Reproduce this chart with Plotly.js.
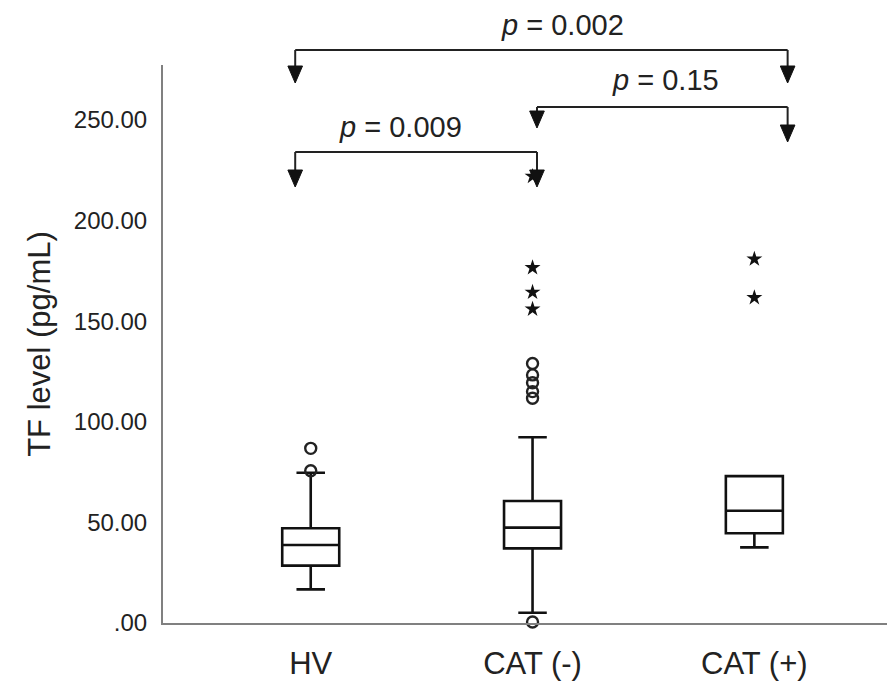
<!DOCTYPE html>
<html>
<head>
<meta charset="utf-8">
<script src="https://cdn.plot.ly/plotly-3.0.1.min.js"></script>
<style>html,body{margin:0;padding:0;background:#fff;}#chart{width:887px;height:685px;}</style>
</head>
<body>
<div id="chart"></div>
<script>
// ---- data ----
const groups = ['HV', 'CAT (-)', 'CAT (+)'];
const q1 = [28.5, 37.1, 44.6];
const medians = [38.8, 47.4, 55.8];
const q3 = [47.1, 60.6, 73.0];
const lowerWhisker = [16.7, 5.1, 37.6];
const upperWhisker = [74.7, 92.3, 73.0];

const circleGroup = ['HV', 'HV', 'CAT (-)', 'CAT (-)', 'CAT (-)', 'CAT (-)', 'CAT (-)', 'CAT (-)'];
const circleValues = [75.7, 86.8, 129.0, 123.3, 119.4, 115.0, 111.7, 0.5];

const starGroup = ['CAT (-)', 'CAT (-)', 'CAT (-)', 'CAT (-)', 'CAT (+)', 'CAT (+)'];
const starValues = [222.0, 176.6, 164.4, 156.0, 180.9, 161.7];

const yTickVals = [0, 50, 100, 150, 200, 250];
const yTickText = ['.00', '50.00', '100.00', '150.00', '200.00', '250.00'];

// comparisons: [from group index, to group index, label]
const comparisons = [
  {from: 0, to: 2, label: 'p = 0.002'},
  {from: 1, to: 2, label: 'p = 0.15'},
  {from: 0, to: 1, label: 'p = 0.009'}
];

// ---- traces ----
const boxTrace = {
  type: 'box',
  x: groups,
  q1: q1, median: medians, q3: q3,
  lowerfence: lowerWhisker, upperfence: upperWhisker,
  boxpoints: false,
  width: 0.257,
  whiskerwidth: 0.5,
  fillcolor: 'rgba(255,255,255,0)',
  line: {color: '#111', width: 2.6},
  hoverinfo: 'skip',
  showlegend: false
};

const circleTrace = {
  type: 'scatter', mode: 'markers',
  x: circleGroup, y: circleValues,
  marker: {symbol: 'circle-open', size: 11, color: '#222', line: {width: 2.4, color: '#222'}},
  cliponaxis: false,
  showlegend: false
};

const starTrace = {
  type: 'scatter', mode: 'markers',
  x: starGroup, y: starValues,
  marker: {symbol: 'star', size: 12, color: '#111'},
  cliponaxis: false,
  showlegend: false
};

// ---- bracket shapes / annotations ----
const plotTop = 65, plotBottom = 623, plotH = plotBottom - plotTop;
function py(pix) { return (plotBottom - pix) / plotH; }
const bracketStyle = [
  {y: 50, tipL: 83, tipR: 83, dxL: -0.07, dxR: 0.15, textY: 25, textX: 562},
  {y: 107, tipL: 128, tipR: 142, dxL: 0.02, dxR: 0.15, textY: 80, textX: 665},
  {y: 152, tipL: 187, tipR: 187, dxL: -0.07, dxR: 0.02, textY: 127, textX: 400}
];
const shapes = [];
const annotations = [];
const headW = 0.033, headH = 17;
comparisons.forEach((c, i) => {
  const s = bracketStyle[i];
  const xL = c.from + s.dxL, xR = c.to + s.dxR;
  const line = {color: '#222', width: 2};
  shapes.push({type: 'line', xref: 'x', yref: 'paper', x0: xL, x1: xR, y0: py(s.y), y1: py(s.y), line: line});
  shapes.push({type: 'line', xref: 'x', yref: 'paper', x0: xL, x1: xL, y0: py(s.y), y1: py(s.tipL - headH + 2), line: line});
  shapes.push({type: 'line', xref: 'x', yref: 'paper', x0: xR, x1: xR, y0: py(s.y), y1: py(s.tipR - headH + 2), line: line});
  [[xL, s.tipL], [xR, s.tipR]].forEach(([x, tip]) => {
    shapes.push({type: 'path', xref: 'x', yref: 'paper',
      path: `M ${x - headW} ${py(tip - headH)} L ${x + headW} ${py(tip - headH)} L ${x} ${py(tip)} Z`,
      fillcolor: '#111', line: {color: '#111', width: 1}});
  });
  const parts = c.label.split(' = ');
  annotations.push({xref: 'paper', yref: 'paper', x: (s.textX - 163) / (887 - 163), y: py(s.textY),
    text: '<i>' + parts[0] + '</i> = ' + parts[1], showarrow: false,
    font: {family: 'Liberation Sans, Arial, sans-serif', size: 29, color: '#222'},
    xanchor: 'center', yanchor: 'middle'});
});

const layout = {
  width: 887, height: 685,
  margin: {l: 163, r: 0, t: plotTop, b: 685 - plotBottom},
  paper_bgcolor: '#fff', plot_bgcolor: '#fff',
  showlegend: false,
  xaxis: {
    type: 'category', categoryorder: 'array', categoryarray: groups,
    range: [-0.666, 2.598],
    showline: true, linecolor: '#808080', linewidth: 2,
    showgrid: false, zeroline: false, ticks: '',
    ticklabelstandoff: 12,
    tickfont: {family: 'Liberation Sans, Arial, sans-serif', size: 31, color: '#222'}
  },
  yaxis: {
    range: [0, (plotBottom - plotTop) / 2.012],
    tickvals: yTickVals, ticktext: yTickText,
    showline: true, linecolor: '#808080', linewidth: 2,
    showgrid: false, zeroline: false, ticks: '',
    ticklabelstandoff: 9,
    tickfont: {family: 'Liberation Sans, Arial, sans-serif', size: 24, color: '#222'},
    title: {text: 'TF level (pg/mL)', standoff: 14,
      font: {family: 'Liberation Sans, Arial, sans-serif', size: 31, color: '#222'}}
  },
  shapes: shapes,
  annotations: annotations
};

Plotly.newPlot('chart', [boxTrace, circleTrace, starTrace], layout, {displayModeBar: false, staticPlot: true});
</script>
</body>
</html>
